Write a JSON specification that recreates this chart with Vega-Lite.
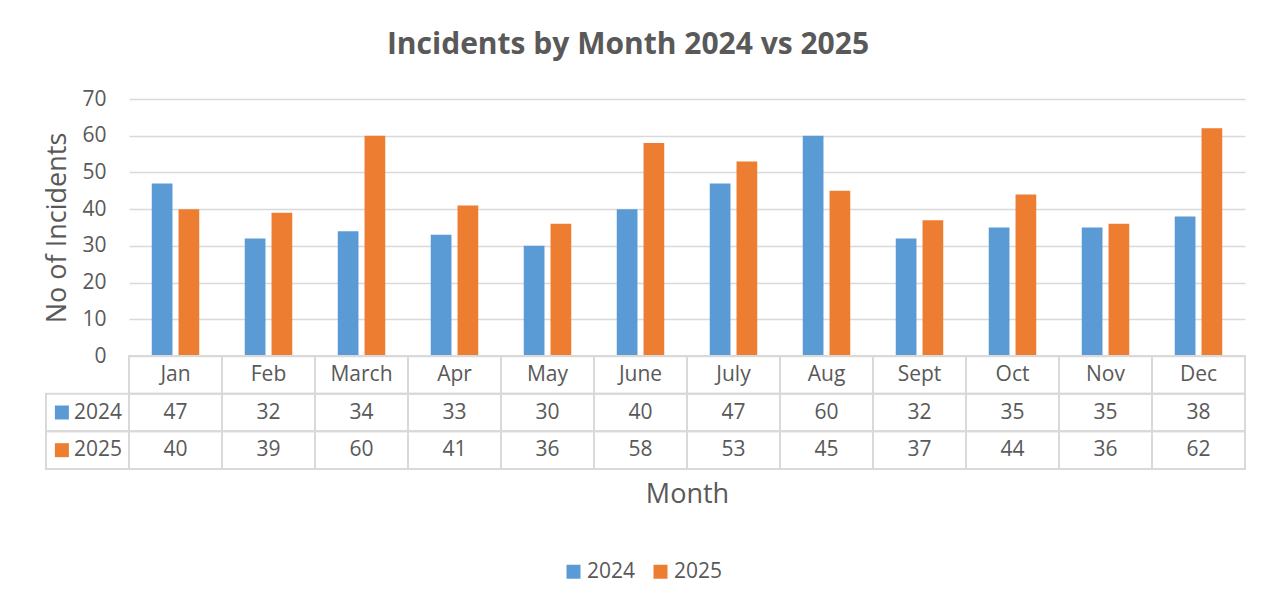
{
  "$schema": "https://vega.github.io/schema/vega-lite/v6.json",
  "background": "white",
  "padding": {"left": 43, "top": 30, "right": 25, "bottom": 25},
  "config": {"view": {"stroke": null}, "font": "Open Sans"},
  "title": {"text": "Incidents by Month 2024 vs 2025", "anchor": "middle", "fontSize": 30, "font": "Open Sans", "fontWeight": "bold", "color": "#595959", "offset": 28, "dx": -17},
  "datasets": {
    "bars": [
      {"month": "Jan", "year": "2024", "incidents": 47},
      {"month": "Feb", "year": "2024", "incidents": 32},
      {"month": "March", "year": "2024", "incidents": 34},
      {"month": "Apr", "year": "2024", "incidents": 33},
      {"month": "May", "year": "2024", "incidents": 30},
      {"month": "June", "year": "2024", "incidents": 40},
      {"month": "July", "year": "2024", "incidents": 47},
      {"month": "Aug", "year": "2024", "incidents": 60},
      {"month": "Sept", "year": "2024", "incidents": 32},
      {"month": "Oct", "year": "2024", "incidents": 35},
      {"month": "Nov", "year": "2024", "incidents": 35},
      {"month": "Dec", "year": "2024", "incidents": 38},
      {"month": "Jan", "year": "2025", "incidents": 40},
      {"month": "Feb", "year": "2025", "incidents": 39},
      {"month": "March", "year": "2025", "incidents": 60},
      {"month": "Apr", "year": "2025", "incidents": 41},
      {"month": "May", "year": "2025", "incidents": 36},
      {"month": "June", "year": "2025", "incidents": 58},
      {"month": "July", "year": "2025", "incidents": 53},
      {"month": "Aug", "year": "2025", "incidents": 45},
      {"month": "Sept", "year": "2025", "incidents": 37},
      {"month": "Oct", "year": "2025", "incidents": 44},
      {"month": "Nov", "year": "2025", "incidents": 36},
      {"month": "Dec", "year": "2025", "incidents": 62}
    ]
  },
  "columns": 2,
  "spacing": 0,
  "bounds": "flush",
  "concat": [
    {
      "width": 83, "height": 257,
      "data": {"values": [{}]},
      "mark": {"type": "text"},
      "encoding": {"text": {"value": ""}}
    },
    {
      "width": 1116, "height": 257,
      "data": {"name": "bars"},
      "mark": {"type": "bar"},
      "encoding": {
        "x": {"field": "month", "type": "nominal", "sort": ["Jan","Feb","March","Apr","May","June","July","Aug","Sept","Oct","Nov","Dec"], "scale": {"paddingInner": 0, "paddingOuter": 0}, "axis": null},
        "xOffset": {"field": "year", "type": "nominal", "scale": {"paddingInner": 0.226, "paddingOuter": 0.85}},
        "y": {"field": "incidents", "type": "quantitative", "scale": {"domain": [0, 70]},
          "axis": {"values": [0,10,20,30,40,50,60,70], "title": "No of Incidents", "domain": false, "ticks": false, "labelPadding": 23, "labelFontSize": 21, "labelColor": "#595959", "labelFont": "Open Sans", "titleFontSize": 27, "titleColor": "#595959", "titleFontWeight": "normal", "titleFont": "Open Sans", "titlePadding": 10, "gridColor": "#d9d9d9", "gridWidth": 1.5}},
        "color": {"field": "year", "type": "nominal", "scale": {"domain": ["2024","2025"], "range": ["#5B9BD5","#ED7D31"]},
          "legend": {"orient": "none", "legendX": 517, "legendY": 462, "direction": "horizontal", "title": null, "symbolType": "square", "symbolSize": 196, "symbolStrokeWidth": 0, "labelFontSize": 21, "labelColor": "#595959", "labelFont": "Open Sans", "labelOffset": 3, "columnPadding": 14}}
      }
    },
    {
      "width": 83, "height": 113,
      "data": {"name": "bars"},
      "transform": [{"filter": "datum.month == 'Jan'"}],
      "layer": [
        {
          "mark": {"type": "rect", "fill": "transparent", "stroke": "#d9d9d9", "strokeWidth": 2},
          "encoding": {
            "y": {"field": "year", "type": "nominal", "scale": {"domain": ["label","2024","2025"], "paddingInner": 0, "paddingOuter": 0}, "axis": null},
            "x": {"value": 0}, "x2": {"value": "width"}
          }
        },
        {
          "mark": {"type": "point", "shape": "square", "filled": true, "size": 196, "opacity": 1},
          "encoding": {
            "y": {"field": "year", "type": "nominal", "axis": null},
            "x": {"datum": "swatch", "type": "nominal", "scale": {"type": "point", "domain": ["swatch","label"], "padding": 0.31}, "axis": null},
            "color": {"field": "year", "type": "nominal", "scale": {"domain": ["2024","2025"], "range": ["#5B9BD5","#ED7D31"]}, "legend": null}
          }
        },
        {
          "mark": {"type": "text", "align": "left", "dx": 12, "fontSize": 21, "color": "#595959", "font": "Open Sans"},
          "encoding": {
            "y": {"field": "year", "type": "nominal", "axis": null},
            "x": {"datum": "swatch", "type": "nominal", "axis": null},
            "text": {"field": "year"}
          }
        }
      ]
    },
    {
      "width": 1116, "height": 113,
      "data": {"name": "bars"},
      "encoding": {
        "x": {"field": "month", "type": "nominal", "sort": ["Jan","Feb","March","Apr","May","June","July","Aug","Sept","Oct","Nov","Dec"], "scale": {"paddingInner": 0, "paddingOuter": 0},
          "axis": {"title": "Month", "labels": false, "ticks": false, "domain": false, "titleFontSize": 27, "titleFontWeight": "normal", "titleColor": "#595959", "titleFont": "Open Sans", "titlePadding": 12}}
      },
      "layer": [
        {
          "mark": {"type": "rect", "fill": "transparent", "stroke": "#d9d9d9", "strokeWidth": 2},
          "encoding": {"y": {"field": "year", "type": "nominal", "scale": {"domain": ["label","2024","2025"], "paddingInner": 0, "paddingOuter": 0}, "axis": null}}
        },
        {
          "transform": [{"filter": "datum.year == '2024'"}],
          "mark": {"type": "rect", "fill": "transparent", "stroke": "#d9d9d9", "strokeWidth": 2},
          "encoding": {"y": {"datum": "label", "type": "nominal", "axis": null}}
        },
        {
          "mark": {"type": "text", "fontSize": 21, "color": "#595959", "font": "Open Sans"},
          "encoding": {"y": {"field": "year", "type": "nominal", "axis": null}, "text": {"field": "incidents", "type": "quantitative"}}
        },
        {
          "transform": [{"filter": "datum.year == '2024'"}],
          "mark": {"type": "text", "fontSize": 21, "color": "#595959", "font": "Open Sans"},
          "encoding": {"y": {"datum": "label", "type": "nominal", "axis": null}, "text": {"field": "month", "type": "nominal"}}
        }
      ]
    }
  ]
}
